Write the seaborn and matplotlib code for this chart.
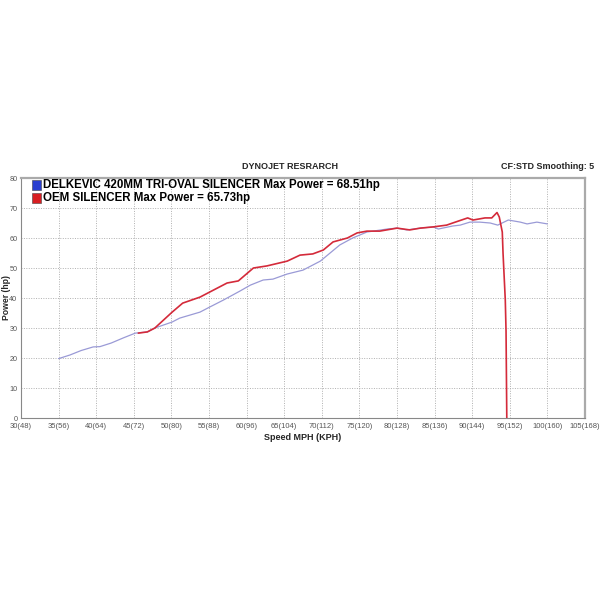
import matplotlib
matplotlib.use("Agg")
import matplotlib.pyplot as plt
import seaborn as sns
import pandas as pd
import numpy as np
from matplotlib.patches import Rectangle
from matplotlib.ticker import MultipleLocator

# ---- data ----
blue_mph = [35, 36.5, 38, 39.6, 40.5, 42, 43.6, 45.2, 46.8, 47.8, 50.1, 51.1, 53.8, 55.1,
            56.9, 59.1, 60.5, 62.2, 63.5, 65.4, 67.5, 69.8, 71.1, 72.4, 74.1, 76, 78.7,
            80, 81.3, 83.1, 84.8, 85.5, 87.4, 88.4, 89.7, 91, 92.4, 93.4, 94.8, 96.4,
            97.3, 98.6, 100]
blue_hp = [19.8, 21, 22.5, 23.7, 23.8, 25, 26.7, 28.3, 28.7, 30, 32, 33.3, 35.3, 37,
           39.3, 42.3, 44.3, 46, 46.3, 48, 49.3, 52.3, 55, 57.7, 60, 62, 63,
           63.3, 62.7, 63.3, 63.7, 63, 64, 64.3, 65.3, 65.3, 65, 64.3, 66, 65.3,
           64.7, 65.3, 64.7]
red_mph = [45.6, 46.8, 47.8, 50.1, 51.5, 53.8, 55.1, 57.4, 58.9, 60.9, 62.7, 65.4, 67.1,
           68.8, 70.2, 71.5, 73.4, 74.7, 76, 77.7, 80, 81.7, 83.1, 84.8, 86.6, 87.4,
           89.4, 90.1, 90.8, 91.7, 92.6, 93.3, 93.6, 94.0, 94.1, 94.4, 94.5, 94.6]
red_hp = [28.3, 28.7, 30, 35.3, 38.3, 40.3, 42, 45, 45.7, 50, 50.7, 52.3, 54.3,
          54.7, 56, 58.7, 60, 61.7, 62.3, 62.3, 63.3, 62.7, 63.3, 63.7, 64.3, 65,
          66.7, 66, 66.3, 66.7, 66.7, 68.5, 67, 62, 55, 39.3, 29, 0]
legend_labels = ["DELKEVIC 420MM TRI-OVAL SILENCER Max Power = 68.51hp",
                 "OEM SILENCER Max Power = 65.73hp"]
x_ticks_mph = [30, 35, 40, 45, 50, 55, 60, 65, 70, 75, 80, 85, 90, 95, 100, 105]
x_tick_labels = ["30(48)", "35(56)", "40(64)", "45(72)", "50(80)", "55(88)", "60(96)",
                 "65(104)", "70(112)", "75(120)", "80(128)", "85(136)", "90(144)",
                 "95(152)", "100(160)", "105(168)"]
y_ticks = [0, 10, 20, 30, 40, 50, 60, 70, 80]

df = pd.concat([
    pd.DataFrame({"mph": blue_mph, "hp": blue_hp, "run": "blue"}),
    pd.DataFrame({"mph": red_mph, "hp": red_hp, "run": "red"}),
])

sns.set_style("white")
plt.rcParams['font.family'] = ['Liberation Sans', 'DejaVu Sans']

fig = plt.figure(figsize=(6, 6), dpi=100)
ax = fig.add_axes([0.035, 0.3033, 0.94, 0.4])

sns.lineplot(data=df, x="mph", y="hp", hue="run", sort=False, estimator=None,
             palette={"blue": "#9a9ad6", "red": "#d42a3a"}, legend=False, ax=ax)
ax.lines[0].set_linewidth(0.9)
ax.lines[1].set_linewidth(1.2)

ax.set_xlim(30, 105)
ax.set_ylim(0, 80)
ax.set_xticks(x_ticks_mph)
ax.set_xticklabels(x_tick_labels)
ax.set_yticks(y_ticks)
ax.xaxis.set_minor_locator(MultipleLocator(1))
ax.yaxis.set_minor_locator(MultipleLocator(2))
ax.tick_params(axis="x", which="major", labelsize=5.5, colors="#555555", length=2.5,
               width=0.6, pad=1)
ax.tick_params(axis="y", which="major", labelsize=5.2, colors="#555555", length=2,
               width=0.6, pad=0.6)
ax.tick_params(axis="both", which="minor", length=1.3, width=0.5, colors="#888888")
ax.grid(True, which="major", color="#b0b0b0", linestyle=(0, (1, 1.5)), linewidth=0.7)
ax.set_axisbelow(True)

for s in ["left", "bottom"]:
    ax.spines[s].set_color("#888888")
    ax.spines[s].set_linewidth(0.8)
for s in ["right", "top"]:
    ax.spines[s].set_color("#aaaaaa")
    ax.spines[s].set_linewidth(1.6)

ax.set_xlabel("Speed MPH (KPH)", fontsize=6.5, fontweight="bold", labelpad=2)
ax.set_ylabel("Power (hp)", fontsize=6.2, fontweight="bold")
ax.yaxis.set_label_coords(-0.0185, 0.5)

# legend entries
sq_colors = ["#2a3fd0", "#d81e22"]
for i, (lab, c) in enumerate(zip(legend_labels, sq_colors)):
    yc = 0.97 - i * 0.055
    ax.add_patch(Rectangle((0.0195, yc - 0.021), 0.016, 0.042, transform=ax.transAxes,
                           facecolor=c, edgecolor="#444444", linewidth=0.4, clip_on=False))
    ax.text(0.039, yc, lab, transform=ax.transAxes, fontsize=8.3, fontweight="bold",
            va="center", ha="left", color="black")

fig.text(0.483, 0.722, "DYNOJET RESRARCH", fontsize=6.5, fontweight="bold",
         ha="center", va="center")
fig.text(0.99, 0.722, "CF:STD Smoothing: 5", fontsize=6.5, fontweight="bold",
         ha="right", va="center")

fig.savefig("out.png", dpi=100, facecolor="white")
